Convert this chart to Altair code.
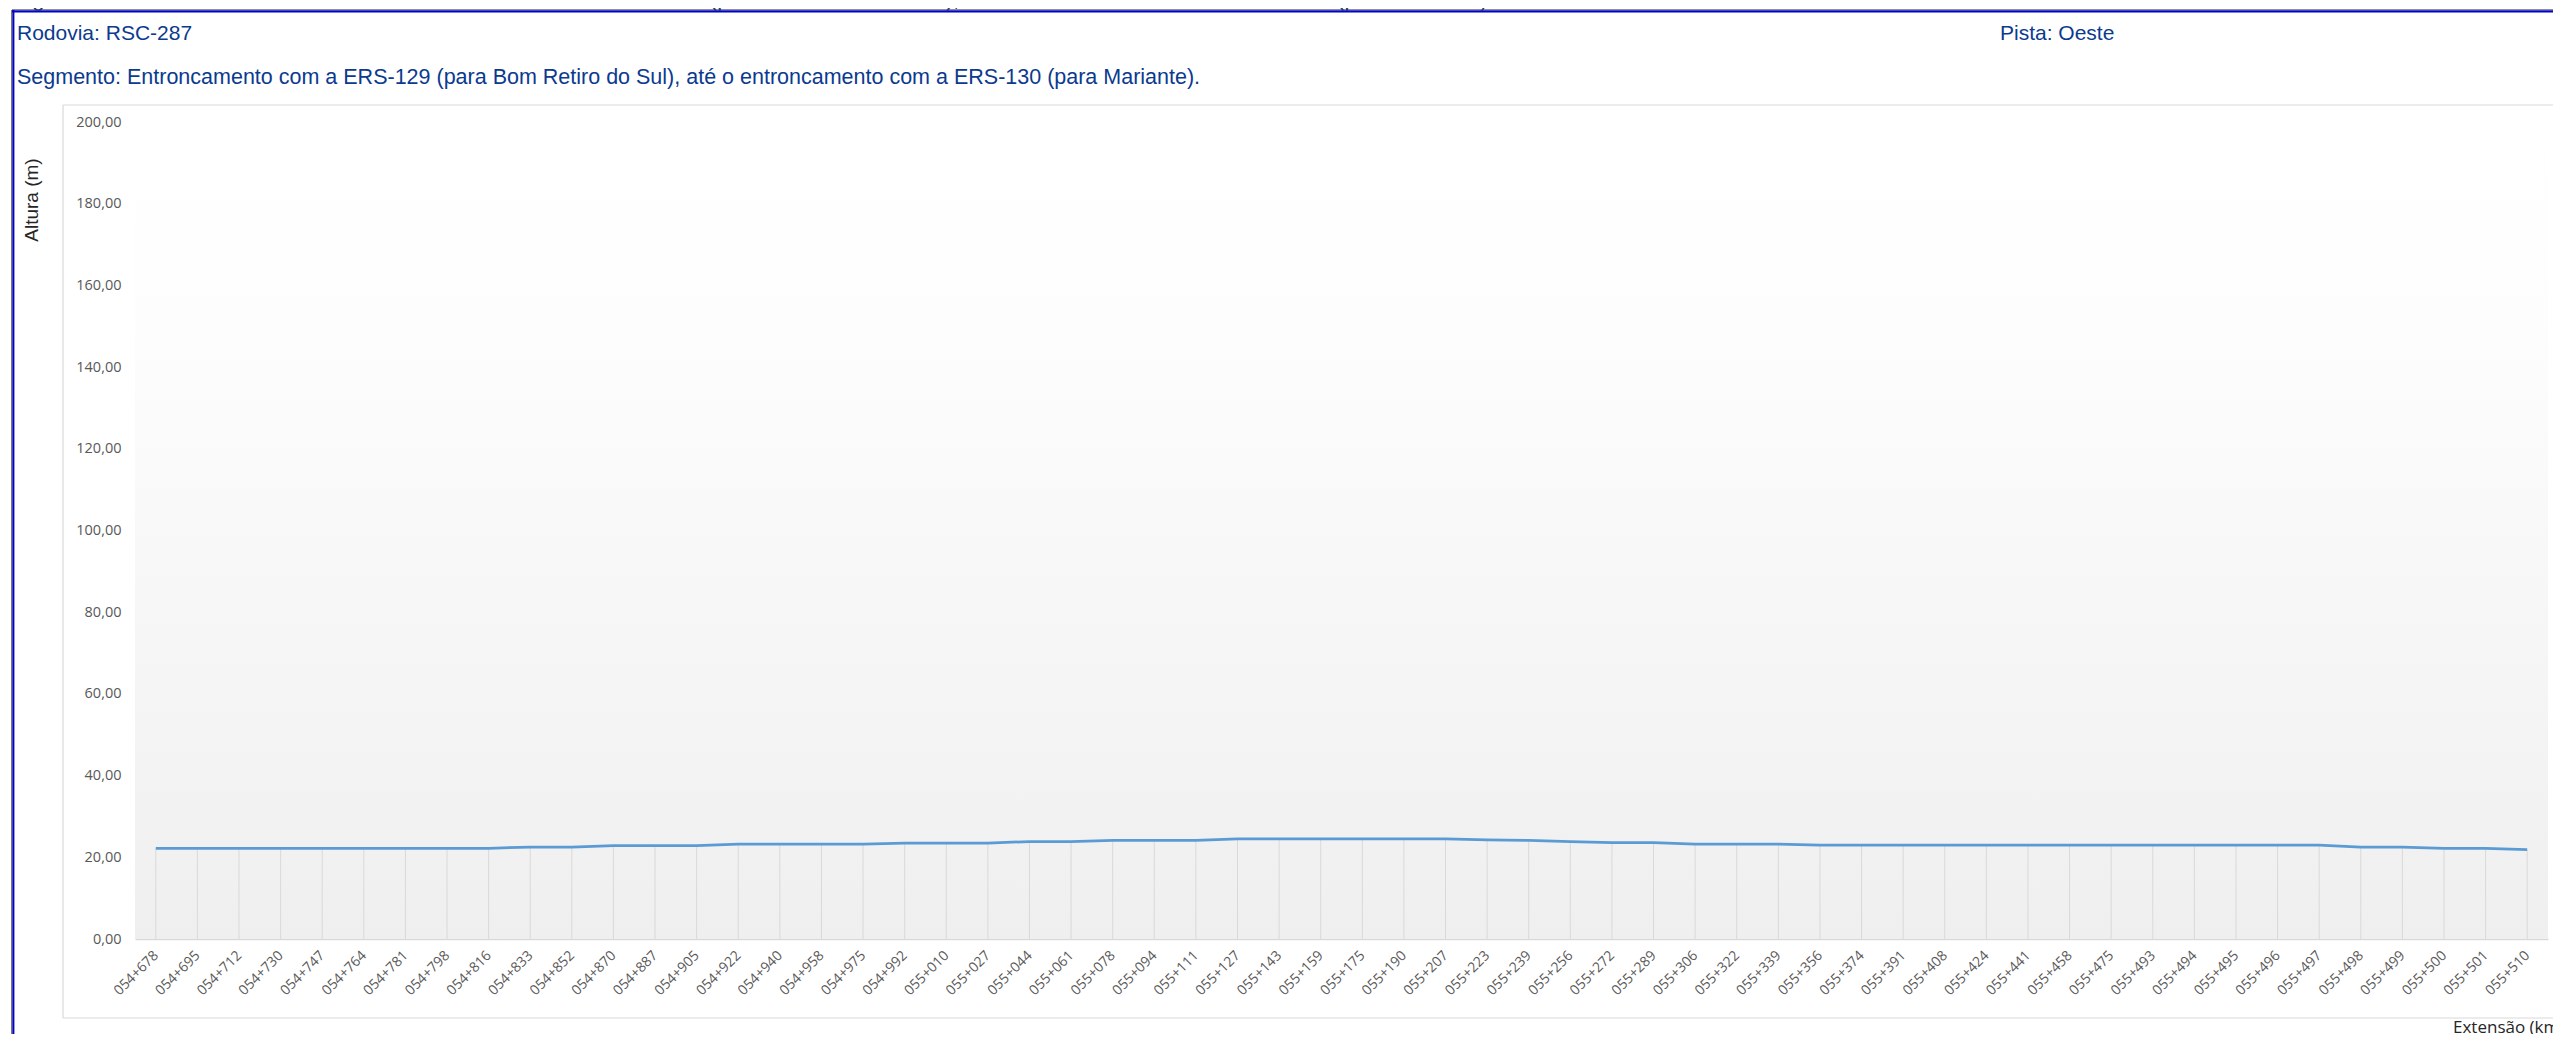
import altair as alt
import pandas as pd

# ---------------- data ----------------
estacas = [
    "054+678", "054+695", "054+712", "054+730", "054+747", "054+764", "054+781",
    "054+798", "054+816", "054+833", "054+852", "054+870", "054+887", "054+905",
    "054+922", "054+940", "054+958", "054+975", "054+992", "055+010", "055+027",
    "055+044", "055+061", "055+078", "055+094", "055+111", "055+127", "055+143",
    "055+159", "055+175", "055+190", "055+207", "055+223", "055+239", "055+256",
    "055+272", "055+289", "055+306", "055+322", "055+339", "055+356", "055+374",
    "055+391", "055+408", "055+424", "055+441", "055+458", "055+475", "055+493",
    "055+494", "055+495", "055+496", "055+497", "055+498", "055+499", "055+500",
    "055+501", "055+510",
]
altura = [
    22.2, 22.2, 22.2, 22.2, 22.2, 22.2, 22.2, 22.2, 22.2,
    22.5, 22.5,
    22.85, 22.85, 22.85,
    23.2, 23.2, 23.2, 23.2,
    23.5, 23.5, 23.5,
    23.85, 23.85,
    24.15, 24.15, 24.15,
    24.5, 24.5, 24.5, 24.5, 24.5, 24.5,
    24.25, 24.15, 23.85,
    23.6, 23.6,
    23.25, 23.25, 23.25,
    22.95, 22.95, 22.95, 22.95, 22.95, 22.95, 22.95, 22.95, 22.95, 22.95,
    22.95, 22.95, 22.95,
    22.5, 22.5,
    22.2, 22.2,
    21.85,
]
y_ticks = [0, 20, 40, 60, 80, 100, 120, 140, 160, 180, 200]

legenda_figura = ("Figura 27 – Levantamento do Greide - Entroncamento com a ERS-129 "
                  "(para Bom Retiro do Sul), até o Entroncamento com a ERS-130 (para Mariante).")
rodovia = "Rodovia: RSC-287"
pista = "Pista: Oeste"
segmento = ("Segmento: Entroncamento com a ERS-129 (para Bom Retiro do Sul), até o "
            "entroncamento com a ERS-130 (para Mariante).")
titulo_y = "Altura (m)"
titulo_x = "Extensão (km)"

df = pd.DataFrame({"estaca": estacas, "altura": altura})
one = pd.DataFrame({"k": [0]})

W, H = 2413, 817
PAD_L, PAD_T, PAD_R, PAD_B = 127, 114, 5, 95
X_END = W + PAD_R + 2  # right end of decorative lines (plot coords)

x_enc = alt.X(
    "estaca:N", sort=estacas,
    scale=alt.Scale(type="point", padding=0.5),
    axis=alt.Axis(
        title=None, labelAngle=-45, labelAlign="right", labelBaseline="middle",
        labelFont="Open Sans", labelFontSize=14, labelColor="#595959",
        labelPadding=14, ticks=False, domainColor="#d9d9d9", domainWidth=1.5,
        labelOverlap=False, grid=False,
    ),
)
y_enc = alt.Y(
    "altura:Q",
    scale=alt.Scale(domain=[0, 200], nice=False, zero=True),
    axis=alt.Axis(
        title=None, values=y_ticks, grid=False, ticks=False, domain=False,
        labelExpr="replace(format(datum.value, '.2f'), '.', ',')",
        labelFont="Open Sans", labelFontSize=14.5, labelColor="#595959",
        labelPadding=14,
    ),
)

# plot-area gradient background
fundo = alt.Chart(one).mark_rect(
    fill=alt.Gradient(
        gradient="linear", x1=0, y1=0, x2=0, y2=1,
        stops=[alt.GradientStop(offset=0, color="#ffffff"),
               alt.GradientStop(offset=0.25, color="#fdfdfd"),
               alt.GradientStop(offset=1, color="#efefef")],
    ),
    stroke=None,
).encode(x=alt.value(0), x2=alt.value(W), y=alt.value(0), y2=alt.value(H))

# drop lines
quedas = alt.Chart(df).mark_rule(color="#d9d9d9", strokeWidth=1).encode(
    x=x_enc, y=y_enc, y2=alt.datum(0)
)

linha = alt.Chart(df).mark_line(color="#5b9bd5", strokeWidth=2.75).encode(
    x=x_enc, y=y_enc
)


def rule(x, x2, y, y2, color, width):
    return alt.Chart(one).mark_rule(color=color, strokeWidth=width).encode(
        x=alt.value(x), x2=alt.value(x2), y=alt.value(y), y2=alt.value(y2)
    )


def texto(t, x, y, size, color, font, align="left", baseline="alphabetic", angle=0):
    kw = dict(align=align, baseline=baseline, font=font, fontSize=size, color=color)
    if angle:
        kw["angle"] = angle
    return alt.Chart(one).mark_text(**kw).encode(
        x=alt.value(x), y=alt.value(y), text=alt.value(t)
    )


# outer frame (page coords -> plot coords: x-135, y-122)
frame = [
    rule(-123, X_END, -112, -112, "#222222", 1.2),
    rule(-123, X_END, -110.5, -110.5, "#0000d8", 1.8),
    rule(-123, -123, -112, H + PAD_B + 2, "#222222", 1.2),
    rule(-121.5, -121.5, -112, H + PAD_B + 2, "#0000d8", 1.8),
]
# inner chart-area box
caixa = [
    rule(-72, X_END, -17, -17, "#d9d9d9", 1.2),
    rule(-72, -72, -17, 896, "#d9d9d9", 1.2),
    rule(-72, X_END, 896, 896, "#d9d9d9", 1.2),
]

textos = [
    texto(legenda_figura, -121, -116, 22, "#1f3a78", "Liberation Sans"),
    texto(rodovia, -118, -82, 21, "#0b3a8f", "Liberation Sans"),
    texto(pista, 1865, -82, 21, "#0b3a8f", "Liberation Sans"),
    texto(segmento, -118, -38, 21.5, "#0b3a8f", "Liberation Sans"),
    texto(titulo_y, -103, 78, 19, "#262626", "Liberation Sans",
          align="center", baseline="middle", angle=270),
    texto(titulo_x, 2318, 906, 17, "#262626", "Open Sans", baseline="middle"),
]

chart = alt.layer(fundo, quedas, linha, *caixa, *frame, *textos).properties(
    width=W, height=H,
    autosize=alt.AutoSizeParams(type="none"),
    padding={"left": PAD_L, "top": PAD_T, "right": PAD_R, "bottom": PAD_B},
    background="white",
).configure_view(stroke=None)

chart.save("out.html", embed_options={"renderer": "svg", "actions": False})
